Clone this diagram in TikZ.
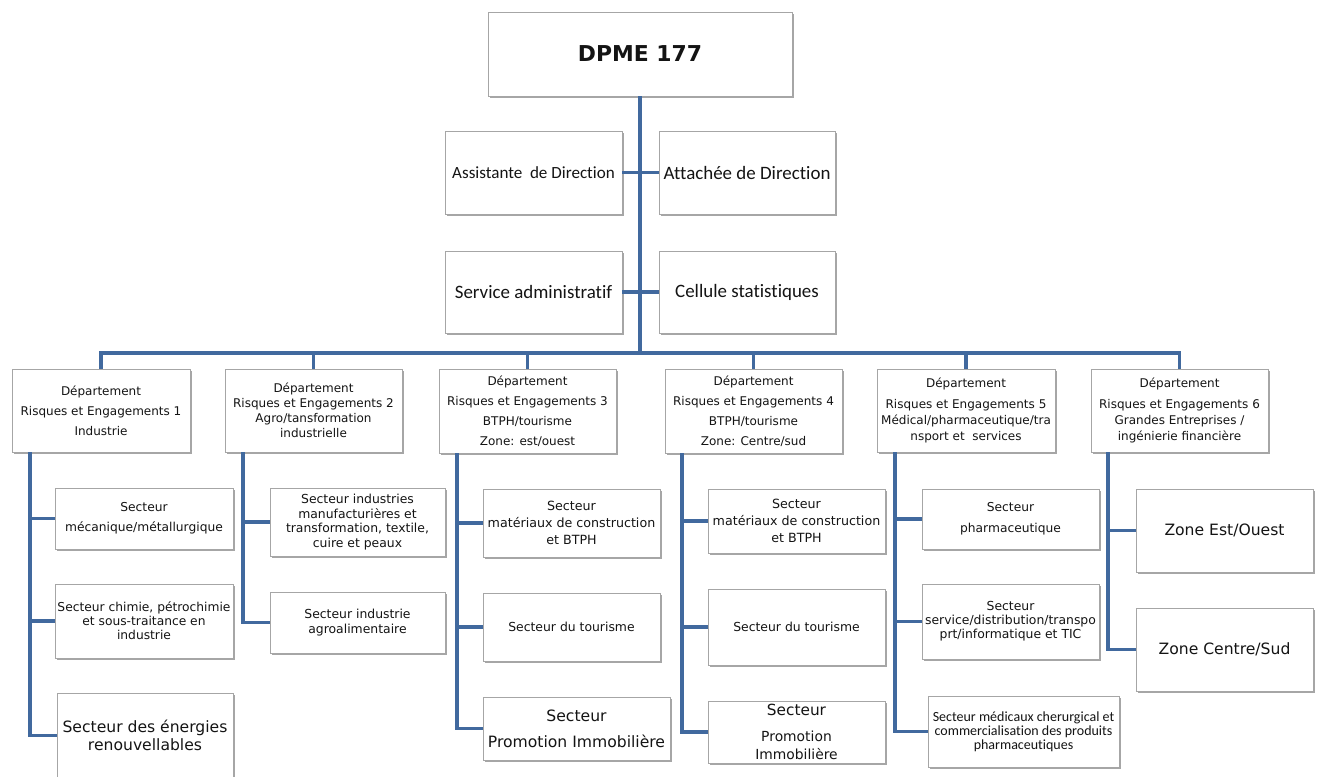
\documentclass[tikz,border=0pt]{standalone}
\usepackage{fontspec}
\setmainfont{DejaVu Sans}
\newfontfamily\calib[Ligatures=NoCommon]{Carlito}
\usetikzlibrary{shadows}
\definecolor{linkblue}{HTML}{41699E}
\definecolor{boxgray}{HTML}{A6A6A6}
\definecolor{ink}{HTML}{141414}

% box given by its corners (x1,y1) and (x2,y2) in pixel units
\newcommand\obox[7][]{%
  \node[box,minimum width={(#5-#3)*0.75pt},minimum height={(#6-#4)*0.75pt},#1]
    (#2) at ({(#3+#5)/2},{(#4+#6)/2}) {#7};}

\begin{document}
\begin{tikzpicture}[x=0.75pt,y=-0.75pt,
  box/.style={draw=boxgray,fill=white,line width=0.6pt,inner sep=0pt,
    align=center,text=ink,
    drop shadow={shadow xshift=1.3pt,shadow yshift=-1.3pt,fill=black,opacity=0.35}},
  link/.style={draw=linkblue,line width=2.6pt,line join=miter},
  head/.style={font=\bfseries\fontsize{16.4}{19}\selectfont},
  staff/.style={font=\calib\fontsize{14.2}{17}\selectfont},
  dept/.style={font=\fontsize{9}{15}\selectfont},
  sect/.style={font=\fontsize{9.3}{12.5}\selectfont},
  big/.style={font=\fontsize{11.7}{14}\selectfont},
  small/.style={font=\calib\fontsize{10.5}{10.5}\selectfont}]

\fill[white] (0,0) rectangle (1319,776);
\useasboundingbox (0,0) rectangle (1319,776);

% direction
\obox[head]{dpme}{488}{12}{792}{96}{DPME 177}
\obox[staff,font=\calib\fontsize{12.8}{15}\selectfont]{assist}{445}{131}{622}{214}{Assistante\ \ de Direction}
\obox[staff]{attach}{659}{131}{835}{214}{Attachée de Direction}
\obox[staff]{admin}{445}{251}{622}{333}{Service administratif}
\obox[staff]{stat}{659}{251}{835}{333}{Cellule statistiques}

% departments
\obox[dept]{d1}{12}{369}{190}{452}{Département\\Risques et Engagements 1\\Industrie}
\obox[dept,font=\fontsize{9}{11.25}\selectfont]{d2}{225}{369}{402}{452}{Département\\Risques et Engagements 2\\Agro/tansformation\\industrielle}
\obox[dept]{d3}{439}{369}{616}{453}{Département\\Risques et Engagements 3\\BTPH/tourisme\\Zone: est/ouest}
\obox[dept]{d4}{665}{369}{842}{453}{Département\\Risques et Engagements 4\\BTPH/tourisme\\Zone: Centre/sud}
\obox[dept,font=\fontsize{9}{12}\selectfont]{d5}{877}{369}{1055}{452}{Département\\[3.5pt]Risques et Engagements 5\\Médical/pharmaceutique/tra\\nsport et \ services}
\obox[dept,font=\fontsize{9}{12}\selectfont]{d6}{1091}{369}{1268}{452}{Département\\[3.5pt]Risques et Engagements 6\\Grandes Entreprises /\\ingénierie financière}

% sectors of department 1
\obox[sect,font=\fontsize{9.2}{15}\selectfont]{c11}{55}{488}{233}{549}{Secteur\\mécanique/métallurgique}
\obox[sect,font=\fontsize{9.2}{10.5}\selectfont]{c12}{55}{584}{233}{658}{Secteur chimie, pétrochimie\\et sous-traitance en\\industrie}
\obox[big,font=\fontsize{11.7}{13.5}\selectfont]{c13}{57}{693}{233}{778}{Secteur des énergies\\renouvellables}

% sectors of department 2
\obox[sect,font=\fontsize{9.3}{10.9}\selectfont]{c21}{270}{488}{445}{556}{Secteur industries\\manufacturières et\\transformation, textile,\\cuire et peaux}
\obox[sect,font=\fontsize{9.3}{11.25}\selectfont]{c22}{270}{592}{445}{653}{Secteur industrie\\agroalimentaire}

% sectors of department 3
\obox[sect,font=\fontsize{9.5}{13}\selectfont]{c31}{483}{489}{660}{557}{Secteur\\matériaux de construction\\et BTPH}
\obox[sect]{c32}{483}{593}{660}{661}{Secteur du tourisme}
\obox[big,font=\fontsize{11.7}{19.5}\selectfont]{c33}{483}{697}{670}{760}{Secteur\\Promotion Immobilière}

% sectors of department 4
\obox[sect,font=\fontsize{9.5}{13}\selectfont]{c41}{708}{489}{885}{553}{Secteur\\matériaux de construction\\et BTPH}
\obox[sect]{c42}{708}{589}{885}{665}{Secteur du tourisme}
\obox[big,font=\fontsize{10.4}{13.5}\selectfont]{c43}{708}{701}{885}{763}{{\fontsize{11.5}{13.5}\selectfont Secteur}\\[6pt]Promotion\\Immobilière}

% sectors of department 5
\obox[sect,font=\fontsize{9.2}{15.75}\selectfont]{c51}{922}{489}{1099}{549}{Secteur\\pharmaceutique}
\obox[sect,font=\fontsize{9.3}{10.5}\selectfont]{c52}{922}{584}{1099}{659}{Secteur\\service/distribution/transpo\\prt/informatique et TIC}
\obox[small]{c53}{928}{696}{1119}{767}{Secteur médicaux cherurgical et\\commercialisation des produits\\pharmaceutiques}

% zones of department 6
\obox[big]{c61}{1136}{489}{1313}{572}{Zone Est/Ouest}
\obox[big]{c62}{1136}{608}{1313}{691}{Zone Centre/Sud}

% main trunk and the bar over the departments
\coordinate (bar) at (639,353);
\draw[link] (dpme.south) -- (dpme.south |- bar);
\draw[link] (assist.east) -- (attach.west);
\draw[link] (admin.east) -- (stat.west);
\draw[link] (d1.north) -- (d1.north |- bar) -- (d6.north |- bar) -- (d6.north);
\foreach \d in {d2,d3,d4,d5}
  \draw[link] (\d.north) -- (\d.north |- bar);

% spines under each department
\coordinate (s1) at (30,452);
\coordinate (s2) at (243,452);
\coordinate (s3) at (457,453);
\coordinate (s4) at (682,453);
\coordinate (s5) at (895,452);
\coordinate (s6) at (1108,452);

\draw[link] (s1) |- (c13.west);
\draw[link] (c11.west) -- (c11.west -| s1);
\draw[link] (c12.west) -- (c12.west -| s1);

\draw[link] (s2) |- (c22.west);
\draw[link] (c21.west) -- (c21.west -| s2);

\draw[link] (s3) |- (c33.west);
\draw[link] (c31.west) -- (c31.west -| s3);
\draw[link] (c32.west) -- (c32.west -| s3);

\draw[link] (s4) |- (c43.west);
\draw[link] (c41.west) -- (c41.west -| s4);
\draw[link] (c42.west) -- (c42.west -| s4);

\draw[link] (s5) |- (c53.west);
\draw[link] (c51.west) -- (c51.west -| s5);
\draw[link] (c52.west) -- (c52.west -| s5);

\draw[link] (s6) |- (c62.west);
\draw[link] (c61.west) -- (c61.west -| s6);
\end{tikzpicture}
\end{document}
